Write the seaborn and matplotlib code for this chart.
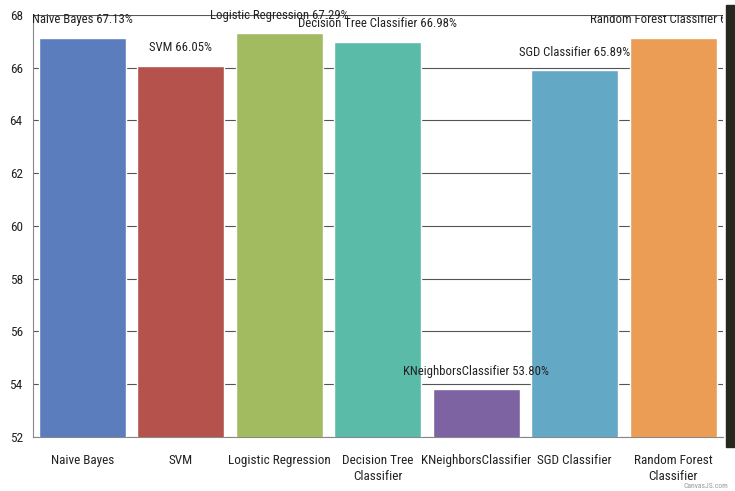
import numpy as np
import pandas as pd
import matplotlib.pyplot as plt
import seaborn as sns
from matplotlib.patches import Rectangle

# accuracy of each classifier (%)
models = ["Naive Bayes", "SVM", "Logistic Regression", "Decision Tree Classifier",
          "KNeighborsClassifier", "SGD Classifier", "Random Forest Classifier"]
tick_labels = ["Naive Bayes", "SVM", "Logistic Regression", "Decision Tree\nClassifier",
               "KNeighborsClassifier", "SGD Classifier", "Random Forest\nClassifier"]
accuracy = [67.13, 66.05, 67.29, 66.98, 53.80, 65.89, 67.13]
colors = ["#5B7DBE", "#B5524C", "#A2BB60", "#5ABBA8", "#7D63A2", "#63A9C6", "#EB9C55"]

df = pd.DataFrame({"model": models, "accuracy": accuracy})

sns.set_style("white")
plt.rcParams['font.family'] = ['Roboto Condensed', 'Roboto', 'DejaVu Sans']

fig = plt.figure(figsize=(7.35, 4.91), dpi=100)
ax = fig.add_axes([0.045, 0.11, 0.938, 0.86])

sns.barplot(data=df, x="model", y="accuracy", hue="model", palette=colors,
            saturation=1, legend=False, width=0.88, ax=ax, zorder=3)

ax.set_ylim(52, 68)
ax.set_yticks(np.arange(52, 69, 2))
ax.yaxis.grid(True, color="#555555", linewidth=0.8, zorder=0)
ax.set_xticks(range(len(models)))
ax.set_xticklabels(tick_labels, fontsize=9.5, color="#222222", linespacing=1.3)
ax.tick_params(axis="y", labelsize=9.5, colors="#222222", length=4, color="#888888")
ax.tick_params(axis="x", length=5, color="#888888", pad=7)
ax.set_xlabel("")
ax.set_ylabel("")
for side in ["top", "right"]:
    ax.spines[side].set_visible(False)
for side in ["left", "bottom"]:
    ax.spines[side].set_color("#888888")

for i, (m, v) in enumerate(zip(models, accuracy)):
    ax.text(i, v + 0.45, f"{m} {v:.2f}%", ha="center", va="bottom",
            fontsize=9.2, color="#222222", clip_on=(i == len(models) - 1), zorder=4)

fig.text(0.991, 0.004, "CanvasJS.com", ha="right", va="bottom", fontsize=5.5, color="#999999")

# dark strip at the right edge of the screenshot
fig.patches.append(Rectangle((0.988, 0.09), 0.012, 0.9, transform=fig.transFigure,
                             color="#26281f", zorder=0))

plt.savefig("out.png", dpi=100)
